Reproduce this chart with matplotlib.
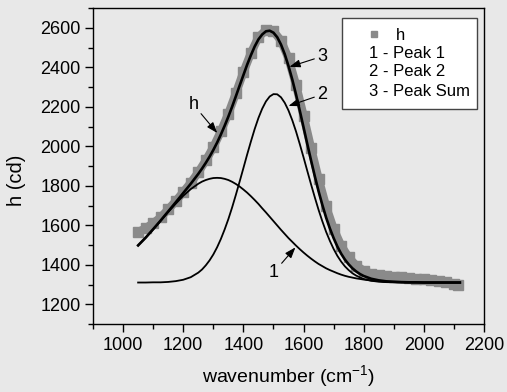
import matplotlib
matplotlib.use("Agg")
import matplotlib.pyplot as plt
from matplotlib.patches import Rectangle
from matplotlib.ticker import MultipleLocator

plt.rcParams['font.family'] = ['Liberation Sans', 'DejaVu Sans']
plt.rcParams['mathtext.fontset'] = 'custom'
plt.rcParams['mathtext.rm'] = 'Liberation Sans'
plt.rcParams['mathtext.default'] = 'regular'

# measured h on its wavenumber grid (cm^-1)
wn_meas = [1050, 1075, 1100, 1125, 1150, 1175, 1200, 1225, 1250, 1275, 1300,
           1325, 1350, 1375, 1400, 1425, 1450, 1475, 1500, 1525, 1550, 1575,
           1600, 1625, 1650, 1675, 1700, 1725, 1750, 1775, 1800, 1825, 1850,
           1875, 1900, 1925, 1950, 1975, 2000, 2025, 2050, 2075, 2100, 2112]
h_meas = [1565, 1585, 1610, 1640, 1680, 1722, 1768, 1815, 1868, 1928, 1995,
          2075, 2165, 2268, 2375, 2472, 2552, 2588, 2582, 2535, 2445, 2310,
          2155, 1990, 1835, 1695, 1582, 1497, 1437, 1396, 1370, 1355, 1346,
          1343, 1340, 1337, 1334, 1330, 1327, 1322, 1318, 1312, 1305, 1300]

# fitted components on a finer grid around the band
wn_fit = [1050, 1075, 1100, 1125, 1150, 1175, 1200, 1225, 1250,
          1262.5, 1275, 1287.5, 1300, 1312.5, 1325, 1337.5, 1350, 1362.5,
          1375, 1387.5, 1400, 1412.5, 1425, 1437.5, 1450, 1462.5, 1475,
          1487.5, 1500, 1512.5, 1525, 1537.5, 1550, 1562.5, 1575, 1587.5,
          1600, 1612.5, 1625, 1637.5, 1650, 1662.5, 1675, 1687.5, 1700,
          1712.5, 1725, 1737.5, 1750, 1762.5, 1775, 1787.5,
          1800, 1825, 1850, 1875, 1900, 1925, 1950, 1975, 2000, 2025, 2050,
          2075, 2100, 2120]

peak1 = [1498, 1537, 1579, 1623, 1667, 1709, 1749, 1783, 1810,
         1821, 1829, 1835, 1839, 1840, 1839, 1835, 1829, 1820, 1809, 1796,
         1781, 1765, 1747, 1728, 1708, 1686, 1665, 1643, 1621, 1599, 1577,
         1556, 1535, 1516, 1497, 1479, 1462, 1446, 1431, 1417, 1404, 1393,
         1382, 1373, 1365, 1357, 1350, 1344, 1339, 1335, 1331, 1328,
         1325, 1320, 1317, 1314, 1313, 1312, 1311, 1311, 1310, 1310, 1310,
         1310, 1310, 1310]

peak2 = [1310, 1310, 1311, 1311, 1313, 1317, 1324, 1337, 1360,
         1376, 1397, 1422, 1452, 1488, 1530, 1578, 1631, 1690, 1754, 1821,
         1889, 1958, 2024, 2087, 2143, 2190, 2227, 2252, 2264, 2263, 2248,
         2220, 2181, 2132, 2075, 2011, 1944, 1875, 1807, 1741, 1678, 1620,
         1567, 1521, 1480, 1445, 1416, 1392, 1373, 1357, 1345, 1336,
         1328, 1319, 1314, 1312, 1311, 1310, 1310, 1310, 1310, 1310, 1310,
         1310, 1310, 1310]

peak_sum = [1498, 1537, 1580, 1624, 1670, 1716, 1763, 1810, 1860,
            1887, 1916, 1947, 1981, 2018, 2059, 2103, 2150, 2200, 2253, 2307,
            2360, 2413, 2461, 2505, 2541, 2566, 2582, 2585, 2575, 2552, 2515,
            2466, 2406, 2338, 2262, 2180, 2096, 2011, 1928, 1848, 1772, 1703,
            1639, 1584, 1535, 1492, 1456, 1426, 1402, 1382, 1366, 1353,
            1343, 1329, 1321, 1316, 1314, 1312, 1311, 1311, 1310, 1310, 1310,
            1310, 1310, 1310]

legend_labels = ["h", "1 - Peak 1", "2 - Peak 2", "3 - Peak Sum"]

BG = "#e8e8e8"
GRAY = "#8a8a8a"
W, H = 507, 392

fig = plt.figure(figsize=(W / 100, H / 100), dpi=100, facecolor=BG)
ax = fig.add_axes([93 / W, 1 - 324 / H, (484 - 93) / W, (324 - 8) / H])
ax.set_facecolor(BG)

# measured band
ax.plot(wn_meas, h_meas, color=GRAY, lw=6, solid_capstyle='butt',
        marker='s', ms=6.5, mec=GRAY, mfc=GRAY, zorder=2)

# fitted curves
ax.plot(wn_fit, peak1, color='black', lw=1.3, zorder=3)
ax.plot(wn_fit, peak2, color='black', lw=1.3, zorder=3)
ax.plot(wn_fit, peak_sum, color='black', lw=1.9, zorder=4)

ax.set_xlim(900, 2200)
ax.set_ylim(1100, 2700)
ax.xaxis.set_minor_locator(MultipleLocator(100))
ax.yaxis.set_minor_locator(MultipleLocator(100))
ax.set_xticks([1000, 1200, 1400, 1600, 1800, 2000, 2200])
ax.set_yticks([1200, 1400, 1600, 1800, 2000, 2200, 2400, 2600])

ax.tick_params(which='major', direction='out', length=6, width=1.0,
               labelsize=13, pad=3, top=False, right=False)
ax.tick_params(which='minor', direction='out', length=3.5, width=1.0,
               top=False, right=False)
for s in ax.spines.values():
    s.set_linewidth(1.0)
    s.set_color('black')

ax.set_xlabel("wavenumber (cm$^{-1}$)", fontsize=14)
ax.set_ylabel("h (cd)", fontsize=14.5)
ax.xaxis.set_label_coords(0.5, -0.125)
ax.yaxis.set_label_coords(-0.172, 0.456)

# curve annotations
arrow = dict(arrowstyle='-|>,head_length=0.5,head_width=0.18', color='black',
             lw=0.8, shrinkA=0, shrinkB=0)
ax.annotate("h", xy=(1313, 2067), xytext=(1250, 2169), fontsize=13,
            ha='right', va='bottom', arrowprops=arrow)
ax.annotate("3", xy=(1553, 2402), xytext=(1645, 2455), fontsize=13,
            ha='left', va='center', arrowprops=arrow)
ax.annotate("2", xy=(1550, 2204), xytext=(1645, 2262), fontsize=13,
            ha='left', va='center', arrowprops=arrow)
ax.annotate("1", xy=(1573, 1488), xytext=(1518, 1405), fontsize=13,
            ha='right', va='top', arrowprops=arrow)

# legend box
fig.patches.append(Rectangle((342 / W, 1 - 109 / H), (477 - 342) / W,
                             (109 - 18) / H, transform=fig.transFigure,
                             facecolor='white', edgecolor='#444444', lw=1.0,
                             zorder=5))
fig.lines.append(plt.Line2D([374 / W], [1 - 34 / H], marker='s', ms=4.5,
                            color=GRAY, transform=fig.transFigure, zorder=6))
fig.text(396 / W, 1 - 35 / H, legend_labels[0], fontsize=12, va='center',
         ha='left', zorder=6)
for lab, py in zip(legend_labels[1:], [54, 72, 91]):
    fig.text(369 / W, 1 - py / H, lab, fontsize=12, va='center', ha='left',
             zorder=6)

fig.savefig("out.png", dpi=100, facecolor=BG)
